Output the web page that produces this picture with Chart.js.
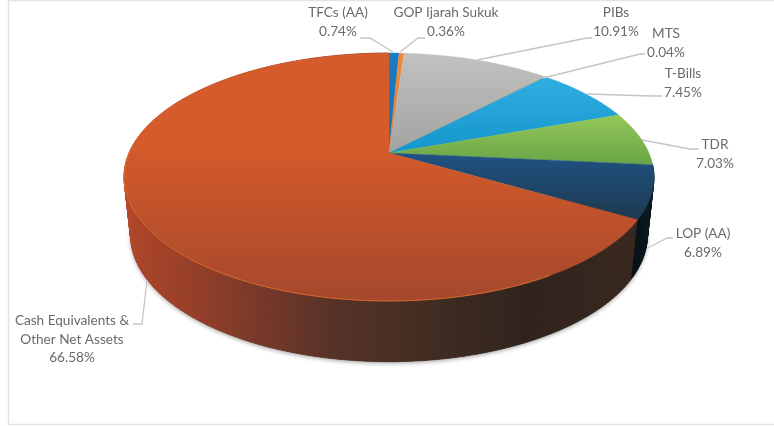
<!DOCTYPE html>
<html>
<head>
<meta charset="utf-8">
<style>
  html, body { margin: 0; padding: 0; background: #fff; }
  canvas { display: block; }
</style>
<script src="https://cdn.jsdelivr.net/npm/chart.js@4"></script>
</head>
<body>
<canvas id="pie" width="774" height="426"></canvas>
<script>
// Portfolio allocation, in percent of net assets.
const categories = [
  ['TFCs (AA)'], ['GOP Ijarah Sukuk'], ['PIBs'], ['MTS'], ['T-Bills'],
  ['TDR'], ['LOP (AA)'], ['Cash Equivalents &', 'Other Net Assets']
];
const shares = [0.74, 0.36, 10.91, 0.04, 7.45, 7.03, 6.89, 66.58];

// Top-face gradient (upper colour, lower colour) for each slice.
const topUpper = ['#1a7cc4', '#f08a3c', '#c2c1bf', '#c9a060', '#30aee2', '#93c75a', '#1f5284', '#d65b2a'];
const topLower = ['#1670b4', '#ec7a2c', '#a3a3a2', '#b89050', '#1496cc', '#69a546', '#1e3a4e', '#a5482d'];

// Side-wall gradient stops, left to right across the pie: [offset, colour].
const wallCash = [[0, '#b5482a'], [0.12, '#9a4029'], [0.25, '#7a3a29'], [0.4, '#563228'],
                  [0.6, '#3f2c22'], [0.76, '#30231d'], [1, '#3a2920']];
const wallLop = [[0, '#060e12'], [1, '#0a1a22']];

// Label anchors: centre x and first-line baseline, in slice order.
const labelSpots = [[338, 17], [446, 17], [616, 17], [666, 38], [683, 78], [715, 149], [703, 238], [72, 325]];
// Leader polylines from each label to its slice.
const leaders = [
  [[360, 38], [370, 38], [393, 52]],
  [[425, 38], [418, 38], [400, 52]],
  [[592, 38], [587, 38], [477, 60]],
  [[645, 54], [640, 54], [543, 78]],
  [[662, 96], [650, 96], [587, 94]],
  [[699, 149], [690, 149], [642, 140]],
  [[673, 238], [667, 238], [648, 248]],
  [[133, 324], [142, 324], [147, 280]]
];

// Perspective of the tilted disc, relative to the radius the library computes.
const tilt = {
  spread: 1.699,      // horizontal stretch of the top face
  squash: 0.78,       // vertical scale of the top face
  recede: 0.1935,     // strength of the perspective divide
  lowSpread: 1.657,   // bottom rim is slightly narrower
  lowSquash: 0.797,
  drop: 57.5          // distance between top and bottom disc centres
};

function rimPoint(arc, angle, low) {
  const u = Math.cos(angle), v = Math.sin(angle);
  const w = 1 - tilt.recede * v;
  const r = arc.outerRadius;
  const sx = low ? tilt.lowSpread : tilt.spread;
  const sy = low ? tilt.lowSquash : tilt.squash;
  return [arc.x + r * sx * u / w, arc.y + (low ? tilt.drop : 0) + r * sy * v / w];
}

function traceRim(ctx, arc, from, to, low, moveFirst) {
  const steps = Math.max(2, Math.ceil(Math.abs(to - from) / 0.01));
  for (let i = 0; i <= steps; i++) {
    const p = rimPoint(arc, from + (to - from) * i / steps, low);
    if (i === 0 && moveFirst) ctx.moveTo(p[0], p[1]); else ctx.lineTo(p[0], p[1]);
  }
}

// Fills the wall of a slice as narrow quads so the silhouette stays straight
// where the two rims share a tangent.
function fillWall(ctx, arc, paint) {
  const from = arc.startAngle, to = arc.endAngle;
  const steps = Math.ceil((to - from) / 0.012);
  ctx.fillStyle = paint;
  ctx.strokeStyle = paint;
  ctx.lineWidth = 0.6;
  for (let i = 0; i < steps; i++) {
    const a = from + (to - from) * i / steps;
    const b = from + (to - from) * (i + 1) / steps;
    const q = [rimPoint(arc, a, false), rimPoint(arc, b, false), rimPoint(arc, b, true), rimPoint(arc, a, true)];
    ctx.beginPath();
    q.forEach((p, k) => k ? ctx.lineTo(p[0], p[1]) : ctx.moveTo(p[0], p[1]));
    ctx.closePath();
    ctx.fill();
    ctx.stroke();
  }
}

function wallGradient(ctx, stops, x0, x1) {
  const g = ctx.createLinearGradient(x0, 0, x1, 0);
  stops.forEach(s => g.addColorStop(s[0], s[1]));
  return g;
}

const discPlugin = {
  id: 'tiltedDisc',
  beforeDraw(chart) {
    // Thin frame around the plot.
    const ctx = chart.ctx;
    ctx.save();
    ctx.strokeStyle = '#e4e4e4';
    ctx.lineWidth = 1.5;
    ctx.beginPath();
    ctx.moveTo(774, 0.5); ctx.lineTo(8.5, 0.5); ctx.lineTo(8.5, 424.5); ctx.lineTo(774, 424.5);
    ctx.stroke();
    ctx.restore();
  },
  beforeDatasetsDraw(chart) {
    const ctx = chart.ctx;
    const arcs = chart.getDatasetMeta(0).data;
    const first = arcs[0];
    ctx.save();

    // Soft contact shadow below the bottom rim.
    ctx.save();
    ctx.shadowColor = 'rgba(0,0,0,0.38)';
    ctx.shadowBlur = 4;
    ctx.shadowOffsetY = 1.5;
    ctx.fillStyle = '#33241e';
    ctx.beginPath();
    traceRim(ctx, first, -0.1, Math.PI + 0.1, true, true);
    ctx.closePath();
    ctx.fill();
    ctx.restore();

    // Side walls: the large slice first, then the dark slice beside it.
    const cash = arcs[7], lop = arcs[6];
    fillWall(ctx, cash, wallGradient(ctx, wallCash, 124, 654));
    fillWall(ctx, lop, wallGradient(ctx, wallLop, 630, 654));

    // Top face, one gradient-filled wedge per slice.
    arcs.forEach((arc, i) => {
      const ys = [];
      const n = 40;
      for (let k = 0; k <= n; k++) ys.push(rimPoint(arc, arc.startAngle + (arc.endAngle - arc.startAngle) * k / n, false)[1]);
      ys.push(arc.y);
      const g = ctx.createLinearGradient(0, Math.min(...ys), 0, Math.max(...ys));
      g.addColorStop(0, topUpper[i]);
      g.addColorStop(i === 7 ? 0.35 : 0, topUpper[i]);
      g.addColorStop(1, topLower[i]);
      ctx.fillStyle = g;
      ctx.strokeStyle = g;
      ctx.lineWidth = 0.4;
      ctx.beginPath();
      ctx.moveTo(arc.x, arc.y);
      traceRim(ctx, arc, arc.startAngle, arc.endAngle, false, false);
      ctx.closePath();
      ctx.fill();
      ctx.stroke();
    });

    // Bright bevel along the front edge of the large slice.
    ctx.strokeStyle = '#dc6a2e';
    ctx.lineWidth = 1;
    ctx.beginPath();
    traceRim(ctx, cash, cash.startAngle + 0.5, Math.PI + 0.05, false, true);
    ctx.stroke();

    ctx.restore();
    return false;
  },
  afterDraw(chart) {
    const ctx = chart.ctx;
    ctx.save();
    ctx.strokeStyle = '#c4c4c4';
    ctx.lineWidth = 1.3;
    leaders.forEach(line => {
      ctx.beginPath();
      line.forEach((p, i) => i ? ctx.lineTo(p[0], p[1]) : ctx.moveTo(p[0], p[1]));
      ctx.stroke();
    });
    ctx.fillStyle = '#6a6a6a';
    ctx.font = '13.6px Lato, "Open Sans", sans-serif';
    ctx.textAlign = 'center';
    ctx.textBaseline = 'alphabetic';
    categories.forEach((lines, i) => {
      const [x, y] = labelSpots[i];
      lines.concat(shares[i].toFixed(2) + '%').forEach((t, k) => ctx.fillText(t, x, y + k * 18.5));
    });
    ctx.restore();
  }
};

new Chart(document.getElementById('pie'), {
  type: 'pie',
  data: {
    labels: categories.map(c => c.join(' ')),
    datasets: [{ data: shares, backgroundColor: topUpper, borderWidth: 0 }]
  },
  options: {
    responsive: false,
    animation: false,
    layout: { padding: { left: 4, right: 0, top: 0, bottom: 120 } },
    plugins: { legend: { display: false }, tooltip: { enabled: false } }
  },
  plugins: [discPlugin]
});
</script>
</body>
</html>
